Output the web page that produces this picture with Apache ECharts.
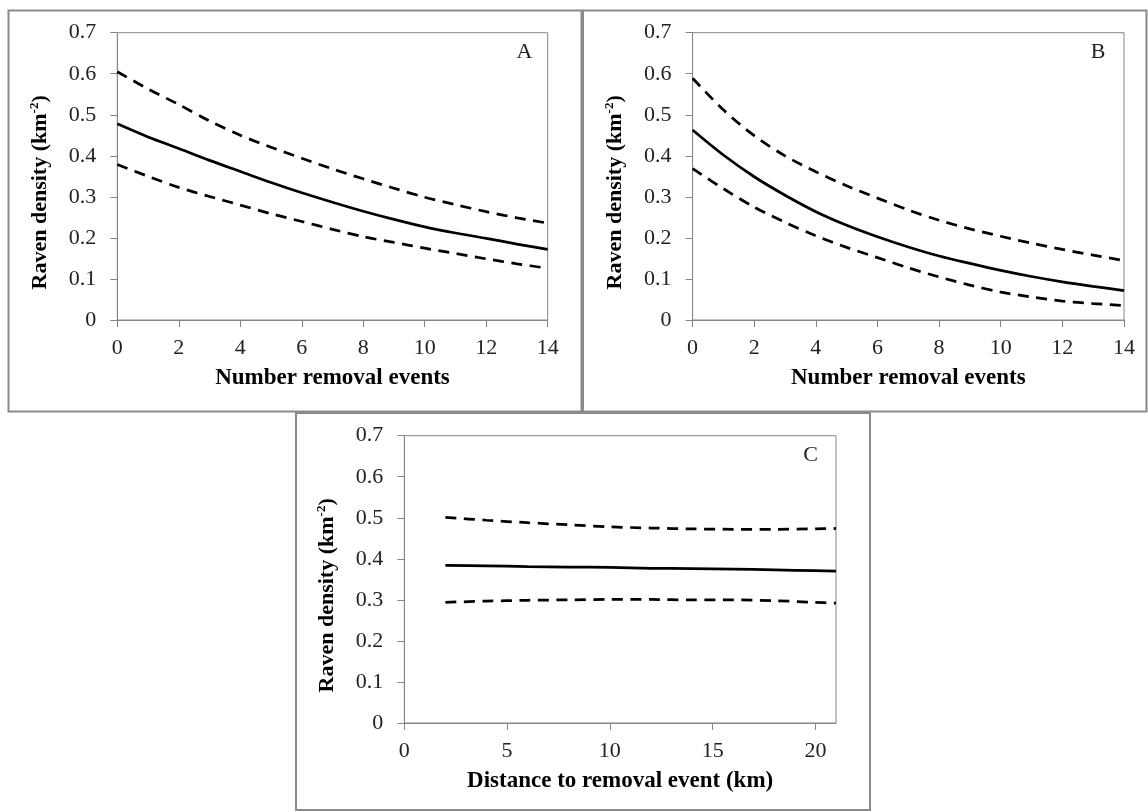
<!DOCTYPE html>
<html>
<head>
<meta charset="utf-8">
<style>
  html, body { margin: 0; padding: 0; background: #ffffff; }
  #chart { width: 1148px; height: 812px; }
</style>
<script src="https://cdn.jsdelivr.net/npm/echarts@6/dist/echarts.min.js"></script>
</head>
<body>
<div id="chart"></div>
<script>
// ---------- data ----------
const removalEvents = [0, 1, 2, 3, 4, 5, 6, 7, 8, 9, 10, 11, 12, 13, 14];

const aMean  = [0.478, 0.446, 0.418, 0.389, 0.362, 0.335, 0.310, 0.287, 0.265, 0.245, 0.227, 0.212, 0.199, 0.185, 0.172];
const aUpper = [0.605, 0.563, 0.525, 0.485, 0.450, 0.421, 0.394, 0.368, 0.344, 0.321, 0.299, 0.281, 0.264, 0.249, 0.236];
const aLower = [0.379, 0.350, 0.323, 0.301, 0.280, 0.259, 0.240, 0.221, 0.203, 0.189, 0.175, 0.162, 0.149, 0.137, 0.126];

const bMean  = [0.463, 0.402, 0.349, 0.304, 0.264, 0.231, 0.203, 0.178, 0.156, 0.138, 0.121, 0.106, 0.093, 0.082, 0.0715];
const bUpper = [0.589, 0.512, 0.449, 0.400, 0.361, 0.327, 0.297, 0.268, 0.243, 0.222, 0.204, 0.187, 0.172, 0.158, 0.145];
const bLower = [0.369, 0.320, 0.275, 0.238, 0.205, 0.177, 0.152, 0.127, 0.105, 0.085, 0.068, 0.056, 0.046, 0.040, 0.035];

const distanceKm = [2, 4, 6, 8, 10, 12, 14, 16, 18, 20, 21];
const cMean  = [0.384, 0.383, 0.381, 0.380, 0.379, 0.377, 0.376, 0.375, 0.373, 0.371, 0.370];
const cUpper = [0.501, 0.494, 0.488, 0.483, 0.478, 0.475, 0.473, 0.472, 0.472, 0.473, 0.474];
const cLower = [0.294, 0.297, 0.299, 0.300, 0.301, 0.301, 0.300, 0.300, 0.298, 0.294, 0.292];

const panelLabels = ['A', 'B', 'C'];
const xTitles = ['Number removal events', 'Number removal events', 'Distance to removal event (km)'];
const yTitle = '{b|Raven density (km}{s|-2}{b|)}';

// ---------- styling ----------
const SERIF = '"Liberation Serif", "Times New Roman", serif';
const AXIS_GRAY = '#868686';
const BOX_GRAY = '#8a8a8a';

function pairs(xs, ys) { return xs.map((x, i) => [x, ys[i]]); }

const grids = [
  { left: 117.3, top: 32.7, width: 430.4, height: 287.3 },
  { left: 692.6, top: 32.7, width: 431.4, height: 287.3 },
  { left: 404.3, top: 435.7, width: 431.7, height: 287.3 }
].map(g => Object.assign({ show: true, borderColor: AXIS_GRAY, borderWidth: 1, backgroundColor: 'transparent' }, g));

function xAxis(idx, max, interval) {
  return {
    type: 'value', gridIndex: idx, min: 0, max: max, interval: interval,
    name: xTitles[idx], nameLocation: 'middle', nameGap: 47,
    nameTextStyle: { fontFamily: SERIF, fontWeight: 'bold', fontSize: 23, color: '#000' },
    axisLine: { show: true, onZero: false, lineStyle: { color: AXIS_GRAY, width: 1 } },
    axisTick: { show: true, inside: false, length: 7, lineStyle: { color: AXIS_GRAY, width: 1 } },
    axisLabel: { show: true, margin: 17, fontFamily: SERIF, fontSize: 22, color: '#222' },
    splitLine: { show: false }
  };
}
function yAxis(idx) {
  return {
    type: 'value', gridIndex: idx, min: 0, max: 0.7, interval: 0.1,
    name: yTitle, nameLocation: 'middle', nameRotate: 90, nameGap: 65,
    nameTextStyle: {
      fontFamily: SERIF, fontWeight: 'bold', fontSize: 22, color: '#000',
      padding: [0, 32, 0, 0],
      rich: {
        b: { fontFamily: SERIF, fontWeight: 'bold', fontSize: 22, color: '#000', lineHeight: 24 },
        s: { fontFamily: SERIF, fontWeight: 'bold', fontSize: 13, color: '#000', verticalAlign: 'top', lineHeight: 24, padding: [0, 0, 6, 0] }
      }
    },
    axisLine: { show: true, onZero: false, lineStyle: { color: AXIS_GRAY, width: 1 } },
    axisTick: { show: true, inside: false, length: 7, lineStyle: { color: AXIS_GRAY, width: 1 } },
    axisLabel: { show: true, margin: 21, fontFamily: SERIF, fontSize: 22, color: '#222',
      formatter: v => (Math.round(v * 10) / 10).toString() },
    splitLine: { show: false }
  };
}

function line(idx, data, dashed) {
  return {
    type: 'line', xAxisIndex: idx, yAxisIndex: idx, data: data,
    smooth: 0.3, showSymbol: false, symbol: 'none',
    silent: true, animation: false,
    lineStyle: { color: '#000', width: 2.75, type: dashed ? [11, 7.5] : 'solid', cap: 'butt' }
  };
}

const series = [
  line(0, pairs(removalEvents, aUpper), true),
  line(0, pairs(removalEvents, aMean), false),
  line(0, pairs(removalEvents, aLower), true),
  line(1, pairs(removalEvents, bUpper), true),
  line(1, pairs(removalEvents, bMean), false),
  line(1, pairs(removalEvents, bLower), true),
  line(2, pairs(distanceKm, cUpper), true),
  line(2, pairs(distanceKm, cMean), false),
  line(2, pairs(distanceKm, cLower), true)
];

const labelPos = [[524.5, 52], [1098, 52.5], [810.5, 455]];
const graphic = [
  { type: 'rect', shape: { x: 8.5, y: 10.5, width: 573, height: 401 }, style: { fill: 'none', stroke: BOX_GRAY, lineWidth: 2 }, silent: true },
  { type: 'rect', shape: { x: 583, y: 10.5, width: 563.5, height: 401 }, style: { fill: 'none', stroke: BOX_GRAY, lineWidth: 2 }, silent: true },
  { type: 'rect', shape: { x: 296, y: 413, width: 574, height: 397 }, style: { fill: 'none', stroke: BOX_GRAY, lineWidth: 2 }, silent: true }
].concat(panelLabels.map((t, i) => ({
  type: 'text', x: labelPos[i][0], y: labelPos[i][1], silent: true,
  style: { text: t, fontFamily: SERIF, fontSize: 22, fill: '#222', align: 'center', verticalAlign: 'middle' }
})));

const chart = echarts.init(document.getElementById('chart'), null, { renderer: 'canvas' });
chart.setOption({
  animation: false,
  backgroundColor: '#ffffff',
  grid: grids,
  xAxis: [xAxis(0, 14, 2), xAxis(1, 14, 2), xAxis(2, 21, 5)],
  yAxis: [yAxis(0), yAxis(1), yAxis(2)],
  series: series,
  graphic: graphic
});
</script>
</body>
</html>
